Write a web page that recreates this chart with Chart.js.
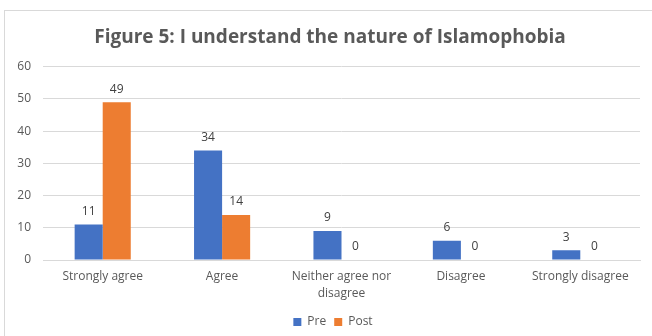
<!DOCTYPE html>
<html>
<head>
<meta charset="utf-8">
<script src="https://cdn.jsdelivr.net/npm/chart.js@4/dist/chart.umd.min.js"></script>
<style>
  html, body { margin: 0; padding: 0; background: #fff; }
  #wrap { position: relative; width: 652px; height: 336px; }
</style>
</head>
<body>
<div id="wrap"><canvas id="fig5" width="652" height="336"></canvas></div>
<script>
const categories = ['Strongly agree', 'Agree', ['Neither agree nor', 'disagree'], 'Disagree', 'Strongly disagree'];
const preValues = [11, 34, 9, 6, 3];
const postValues = [49, 14, 0, 0, 0];
const seriesNames = ['Pre', 'Post'];
const seriesColors = ['#4472C4', '#ED7D31'];
const yMax = 60;
const yStep = 10;

const textColor = '#595959';
const fontFamily = "'Open Sans', sans-serif";

// Excel-style frame around the whole chart
const framePlugin = {
  id: 'frame',
  beforeDraw(chart) {
    const { ctx } = chart;
    ctx.save();
    ctx.strokeStyle = '#d9d9d9';
    ctx.lineWidth = 1;
    ctx.strokeRect(4.5, 10.5, 660, 400);
    ctx.restore();
  },
  // title and legend sit a bit right of the canvas centre in the original
  afterLayout(chart) {
    const t = chart.titleBlock;
    if (t) { t.left += 5; t.right += 5; }
    const l = chart.legend;
    if (l) { l.left += 8; l.right += 8; }
  },
};

// values on top of each bar
const valueLabels = {
  id: 'valueLabels',
  afterDatasetsDraw(chart) {
    const { ctx } = chart;
    ctx.save();
    ctx.font = `12px ${fontFamily}`;
    ctx.fillStyle = '#404040';
    ctx.textAlign = 'center';
    ctx.textBaseline = 'middle';
    chart.data.datasets.forEach((ds, i) => {
      chart.getDatasetMeta(i).data.forEach((bar, j) => {
        ctx.fillText(String(ds.data[j]), bar.x, bar.y - 13);
      });
    });
    ctx.restore();
  },
};

new Chart(document.getElementById('fig5'), {
  type: 'bar',
  data: {
    labels: categories,
    datasets: [
      { label: seriesNames[0], data: preValues, backgroundColor: seriesColors[0] },
      { label: seriesNames[1], data: postValues, backgroundColor: seriesColors[1] },
    ],
  },
  options: {
    responsive: false,
    animation: false,
    devicePixelRatio: 1,
    categoryPercentage: 0.47,
    barPercentage: 1,
    layout: { padding: { left: 10, right: 12, top: 24, bottom: -2 } },
    plugins: {
      title: {
        display: true,
        text: 'Figure 5: I understand the nature of Islamophobia',
        color: textColor,
        font: { family: fontFamily, size: 19, weight: 'bold' },
        padding: { top: 2, bottom: 18 },
      },
      legend: {
        position: 'bottom',
        labels: {
          color: textColor,
          font: { family: fontFamily, size: 12 },
          boxWidth: 8,
          boxHeight: 8,
          padding: 8,
        },
      },
      tooltip: { enabled: false },
    },
    scales: {
      x: {
        grid: { display: false, drawTicks: false },
        border: { color: '#d9d9d9' },
        ticks: {
          color: textColor,
          font: { family: fontFamily, size: 12, lineHeight: '17px' },
          padding: 8,
          maxRotation: 0,
          autoSkip: false,
        },
        afterFit(scale) { scale.height = 48; },
      },
      y: {
        min: 0,
        max: yMax,
        ticks: {
          stepSize: yStep,
          color: textColor,
          font: { family: fontFamily, size: 12 },
          padding: 12,
        },
        grid: { color: '#d9d9d9', drawTicks: false },
        border: { display: false },
        afterFit(scale) { scale.width = 33; },
      },
    },
  },
  plugins: [framePlugin, valueLabels],
});
</script>
</body>
</html>
